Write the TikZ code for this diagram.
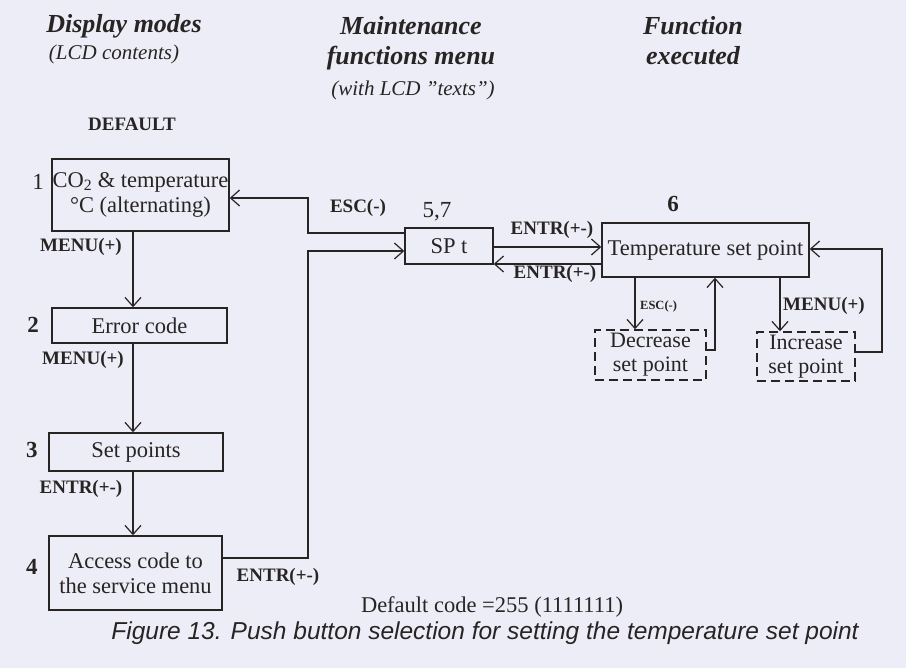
\documentclass[tikz,border=0pt]{standalone}
\usepackage{fontspec}
\setmainfont{Liberation Serif}
\newfontfamily\capfont{Liberation Sans}
\usetikzlibrary{arrows.meta}
\definecolor{bgc}{RGB}{236,237,246}
\definecolor{ink}{RGB}{40,36,36}
\tikzset{
  box/.style={draw=ink, line width=1.4pt, inner sep=0pt, align=center, font=\fontsize{22.5}{25}\selectfont, text=ink},
  dbox/.style={box, dashed, dash pattern=on 9pt off 5pt, font=\fontsize{22}{24}\selectfont},
  arr/.style={draw=ink, line width=1.3pt, -{Straight Barb[length=9pt,width=16pt,line width=1.2pt]}},
  blab/.style={font=\fontsize{19}{21}\selectfont\bfseries, text=ink, inner sep=0pt},
  num/.style={font=\fontsize{23}{25}\selectfont, text=ink, inner sep=0pt},
  bnum/.style={font=\fontsize{23}{25}\selectfont\bfseries, text=ink, inner sep=0pt},
  head/.style={font=\fontsize{26}{30}\selectfont\bfseries\itshape, text=ink, inner sep=0pt, align=center},
  sub/.style={font=\fontsize{21}{23}\selectfont\itshape, text=ink, inner sep=0pt}
}
\begin{document}
\begin{tikzpicture}[x=1pt,y=-1pt]
\path[fill=bgc] (0,0) rectangle (906,668);
\useasboundingbox (0,0) rectangle (906,668);

% headers
\node[head] (h1) at (124,26) {Display modes};
\node[sub] (h1s) at (114,54) {(LCD contents)};
\node[head] (h2) at (411,43) {Maintenance\\functions menu};
\node[sub] (h2s) at (413,90) {(with LCD "texts")};
\node[head] (h3) at (693,41) {Function\\executed};
\node[blab] (def) at (132,124) {DEFAULT};

% left column boxes
\node[box, minimum width=177pt, minimum height=72pt] (b1) at (140.5,195) {CO\textsubscript{2} \& temperature\\°C (alternating)};
\node[box, minimum width=175pt, minimum height=35pt] (b2) at (139.5,325.5) {Error code};
\node[box, minimum width=174pt, minimum height=38pt] (b3) at (136,452) {Set points};
\node[box, minimum width=173pt, minimum height=74pt] (b4) at (135.5,573) {Access code to\\the service menu};

\node[num] (n1) at (38,182) {1};
\node[bnum] (n2) at (33,325) {2};
\node[bnum] (n3) at (32,450) {3};
\node[bnum] (n4) at (32,567) {4};

% middle and right boxes
\node[box, minimum width=88pt, minimum height=36pt] (sp) at (449,246) {SP t};
\node[num] (n57) at (437,212) {5,7};
\node[box, minimum width=207pt, minimum height=54pt] (tsp) at (705.5,250) {Temperature set point};
\node[bnum] (n6) at (673,204) {6};
\node[dbox, minimum width=111pt, minimum height=50pt] (dec) at (650.5,355) {Decrease\\set point};
\node[dbox, minimum width=98pt, minimum height=49pt] (inc) at (806,356.5) {Increase\\set point};

% helper coordinates
\coordinate (xL) at (133,0);
\coordinate (xM) at (308,0);
\coordinate (yEsc) at (0,198);
\coordinate (yEscB) at (0,233);
\coordinate (yEnt) at (0,251);
\coordinate (yB4) at (0,558);
\coordinate (yTop) at (0,247);
\coordinate (yBot) at (0,264);
\coordinate (xD) at (635,0);
\coordinate (xDr) at (715,0);
\coordinate (yDr) at (0,350);
\coordinate (xI) at (780,0);
\coordinate (xIr) at (882,0);
\coordinate (yIr) at (0,352);
\coordinate (yTr) at (0,249);

% left column arrows
\draw[arr] (b1.south -| xL) -- (b2.north -| xL);
\draw[arr] (b2.south -| xL) -- (b3.north -| xL);
\draw[arr] (b3.south -| xL) -- (b4.north -| xL);
\node[blab] (m1) at (81,247) {MENU(+)};
\node[blab] (m2) at (83,360) {MENU(+)};
\node[blab] (e1) at (81,489) {ENTR(+-)};

% ESC back to box 1
\draw[arr] (sp.west |- yEscB) -- (xM |- yEscB) -- (xM |- yEsc) -- (b1.east |- yEsc);
\node[blab] (esc1) at (358,208) {ESC(-)};
% box 4 to SP t
\draw[arr] (b4.east |- yB4) -- (xM |- yB4) -- (xM |- yEnt) -- (sp.west |- yEnt);
\node[blab] (e4) at (278,577) {ENTR(+-)};

% SP t <-> temperature set point
\draw[arr] (sp.east |- yTop) -- (tsp.west |- yTop);
\draw[arr] (tsp.west |- yBot) -- (sp.east |- yBot);
\node[blab] (e2) at (552,230) {ENTR(+-)};
\node[blab] (e3) at (555,274) {ENTR(+-)};

% decrease / increase
\draw[arr] (tsp.south -| xD) -- (dec.north -| xD);
\draw[arr] (dec.east |- yDr) -- (xDr |- yDr) -- (tsp.south -| xDr);
\node[blab, font=\fontsize{12.5}{15}\selectfont\bfseries, anchor=west] (esc2) at (640,306) {ESC(-)};
\draw[arr] (tsp.south -| xI) -- (inc.north -| xI);
\draw[arr] (inc.east |- yIr) -- (xIr |- yIr) -- (xIr |- yTr) -- (tsp.east |- yTr);
\node[blab, anchor=west] (m3) at (783,306) {MENU(+)};

% footer
\node[font=\fontsize{22.5}{24}\selectfont, text=ink, inner sep=0pt] (dc) at (492,607) {Default code =255 (1111111)};
\node[font=\fontsize{24.5}{26}\selectfont\capfont\itshape, text=ink, inner sep=0pt] (cap) at (485,633) {Figure 13. Push button selection for setting the temperature set point};
\end{tikzpicture}
\end{document}
